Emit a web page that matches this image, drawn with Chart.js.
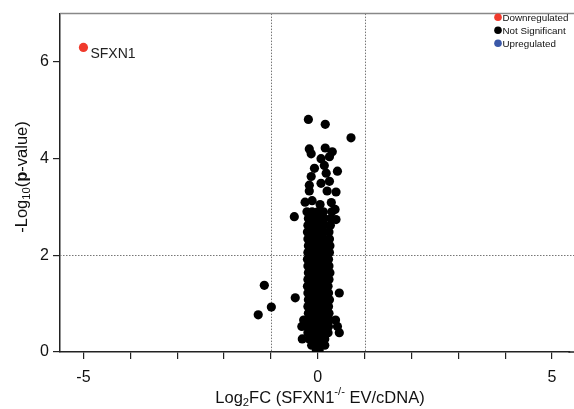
<!DOCTYPE html>
<html>
<head>
<meta charset="utf-8">
<script src="https://cdn.jsdelivr.net/npm/chart.js@4"></script>
<style>
  body { margin: 0; background: #fff; }
  #wrap { width: 574px; height: 409px; }
</style>
</head>
<body>
<div id="wrap"><canvas id="volcano"></canvas></div>
<script>
    // Log2FC / -log10(p) values
    const downregulated = [[-5.0, 6.3]];
    const downLabels = ['SFXN1'];
    const upregulated = [];

    const notSignificant = [
        // scattered points above the dense column
        [-0.2, 4.81], [0.16, 4.71], [0.71, 4.43],
        [-0.18, 4.2], [0.16, 4.22], [0.31, 4.14],
        [-0.14, 4.1], [0.07, 4.0], [0.25, 4.04],
        [-0.07, 3.8], [0.14, 3.86], [0.42, 3.74], [0.18, 3.7],
        [-0.14, 3.63], [0.25, 3.53], [-0.18, 3.45], [0.07, 3.49],
        [0.2, 3.33], [0.39, 3.31], [-0.18, 3.33],
        [-0.27, 3.1], [-0.12, 3.13], [0.29, 3.09], [0.05, 3.05],
        [0.37, 2.95], [0.39, 2.74], [-0.5, 2.8],
        // left / right outliers
        [-1.14, 1.38], [-1.27, 0.77], [-0.99, 0.93], [-0.48, 1.12], [0.46, 1.22],
        // dense column
        [-0.03, 0.04], [0.03, 0.04],
        [-0.13, 0.14], [-0.03, 0.14], [0.07, 0.14], [0.15, 0.14],
        [-0.18, 0.27], [-0.07, 0.27], [0.04, 0.27], [0.15, 0.27], [-0.33, 0.27],
        [-0.21, 0.4], [-0.1, 0.4], [0.01, 0.4], [0.12, 0.4], [0.22, 0.4], [0.46, 0.4],
        [-0.22, 0.53], [-0.11, 0.53], [0.0, 0.53], [0.11, 0.53], [0.23, 0.53], [-0.34, 0.53], [0.42, 0.53],
        [-0.21, 0.66], [-0.1, 0.66], [0.02, 0.66], [0.13, 0.66], [0.25, 0.66], [-0.3, 0.66], [0.38, 0.66],
        [-0.2, 0.8], [-0.09, 0.8], [0.03, 0.8], [0.14, 0.8], [0.24, 0.8],
        [-0.21, 0.94], [-0.1, 0.94], [0.02, 0.94], [0.13, 0.94], [0.23, 0.94],
        [-0.2, 1.08], [-0.09, 1.08], [0.03, 1.08], [0.14, 1.08], [0.25, 1.08],
        [-0.21, 1.22], [-0.1, 1.22], [0.01, 1.22], [0.12, 1.22], [0.23, 1.22],
        [-0.22, 1.36], [-0.11, 1.36], [0.0, 1.36], [0.11, 1.36], [0.22, 1.36],
        [-0.21, 1.5], [-0.1, 1.5], [0.02, 1.5], [0.13, 1.5], [0.24, 1.5],
        [-0.2, 1.64], [-0.09, 1.64], [0.03, 1.64], [0.14, 1.64], [0.26, 1.64],
        [-0.21, 1.78], [-0.1, 1.78], [0.01, 1.78], [0.12, 1.78], [0.24, 1.78],
        [-0.22, 1.92], [-0.11, 1.92], [0.0, 1.92], [0.11, 1.92], [0.23, 1.92],
        [-0.21, 2.06], [-0.1, 2.06], [0.02, 2.06], [0.13, 2.06], [0.25, 2.06],
        [-0.2, 2.2], [-0.09, 2.2], [0.03, 2.2], [0.14, 2.2], [0.26, 2.2],
        [-0.21, 2.34], [-0.1, 2.34], [0.01, 2.34], [0.12, 2.34], [0.25, 2.34],
        [-0.22, 2.48], [-0.11, 2.48], [0.0, 2.48], [0.11, 2.48], [0.24, 2.48],
        [-0.21, 2.62], [-0.1, 2.62], [0.02, 2.62], [0.13, 2.62], [0.27, 2.62],
        [-0.2, 2.76], [-0.09, 2.76], [0.03, 2.76], [0.14, 2.76], [0.28, 2.76],
        [-0.23, 2.9], [-0.12, 2.9], [0.0, 2.9], [0.12, 2.9], [0.3, 2.9]
    ];

    const xTicks = [-5, 0, 5];
    const yTicks = [0, 2, 4, 6];
    const fcCutoffs = [-1, 1];
    const pCutoff = 2;

    const FONT = '"Liberation Sans", Arial, sans-serif';

    function toPoints(arr) {
        return arr.map(p => ({ x: p[0], y: p[1] }));
    }

    // draws text made of pieces: {t, sub, sup, bold}
    function drawRich(ctx, parts, size) {
        let total = 0;
        parts.forEach(p => {
            const s = (p.sub || p.sup) ? size * 0.68 : size;
            ctx.font = (p.bold ? 'bold ' : '') + s + 'px ' + FONT;
            p.w = ctx.measureText(p.t).width;
            total += p.w;
        });
        let x = -total / 2;
        parts.forEach(p => {
            const s = (p.sub || p.sup) ? size * 0.68 : size;
            ctx.font = (p.bold ? 'bold ' : '') + s + 'px ' + FONT;
            let dy = 0;
            if (p.sub) dy = size * 0.28;
            if (p.sup) dy = -size * 0.38;
            ctx.fillText(p.t, x, dy);
            x += p.w;
        });
    }

    const extras = {
        id: 'extras',
        beforeDatasetsDraw(chart) {
            const ctx = chart.ctx;
            const a = chart.chartArea;
            const xs = chart.scales.x, ys = chart.scales.y;
            ctx.save();
            ctx.strokeStyle = '#777';
            ctx.lineWidth = 1;
            ctx.setLineDash([1.5, 1.5]);
            fcCutoffs.forEach(v => {
                const px = Math.round(xs.getPixelForValue(v)) + 0.5;
                ctx.beginPath();
                ctx.moveTo(px, a.top);
                ctx.lineTo(px, a.bottom);
                ctx.stroke();
            });
            const py = Math.round(ys.getPixelForValue(pCutoff)) + 0.5;
            ctx.beginPath();
            ctx.moveTo(a.left, py);
            ctx.lineTo(chart.width, py);
            ctx.stroke();
            ctx.setLineDash([]);
            // top frame line
            ctx.strokeStyle = '#888';
            ctx.lineWidth = 1.5;
            ctx.beginPath();
            ctx.moveTo(a.left, a.top);
            ctx.lineTo(chart.width, a.top);
            ctx.stroke();
            // x axis runs on to the edge of the figure
            ctx.strokeStyle = '#222';
            ctx.beginPath();
            ctx.moveTo(a.right - 1, a.bottom);
            ctx.lineTo(chart.width, a.bottom);
            ctx.stroke();
            ctx.restore();
        },
        afterDraw(chart) {
            const ctx = chart.ctx;
            const a = chart.chartArea;
            ctx.save();
            ctx.fillStyle = '#111';
            ctx.textBaseline = 'middle';
            ctx.textAlign = 'left';

            // point label
            const meta = chart.getDatasetMeta(0);
            meta.data.forEach((pt, i) => {
                ctx.font = '14px ' + FONT;
                ctx.fillStyle = '#222';
                ctx.fillText(downLabels[i], pt.x + 7, pt.y + 7);
            });

            // legend
            ctx.font = '9.8px ' + FONT;
            chart.data.datasets.forEach((ds, i) => {
                const y = 17.3 + i * 13;
                ctx.fillStyle = ds.backgroundColor;
                ctx.beginPath();
                ctx.arc(498, y, 3.8, 0, Math.PI * 2);
                ctx.fill();
                ctx.fillStyle = '#111';
                ctx.fillText(ds.label, 502.5, y + 0.5);
            });

            // axis titles
            ctx.fillStyle = '#111';
            ctx.textAlign = 'left';
            ctx.save();
            ctx.translate(320, 398);
            drawRich(ctx, [
                { t: 'Log' }, { t: '2', sub: true }, { t: 'FC (SFXN1' },
                { t: '-/-', sup: true }, { t: ' EV/cDNA)' }
            ], 16.5);
            ctx.restore();

            ctx.save();
            ctx.translate(22, 177);
            ctx.rotate(-Math.PI / 2);
            drawRich(ctx, [
                { t: '-Log' }, { t: '10', sub: true }, { t: '(' },
                { t: 'p', bold: true }, { t: '-value)' }
            ], 16.5);
            ctx.restore();
            ctx.restore();
        }
    };

    const ctx = document.getElementById('volcano').getContext('2d');
    const volcanoChart = new Chart(ctx, {
        type: 'scatter',
        data: {
            datasets: [{
                label: 'Downregulated',
                data: toPoints(downregulated),
                backgroundColor: '#f03a2c',
                borderWidth: 0,
                pointRadius: 4.6
            }, {
                label: 'Not Significant',
                data: toPoints(notSignificant),
                backgroundColor: '#000000',
                borderWidth: 0,
                pointRadius: 4.6
            }, {
                label: 'Upregulated',
                data: toPoints(upregulated),
                backgroundColor: '#3a58a8',
                borderWidth: 0,
                pointRadius: 4.6
            }]
        },
        options: {
            responsive: true,
            maintainAspectRatio: false,
            animation: false,
            layout: { padding: { top: 8, right: 0, left: 0, bottom: 0 } },
            plugins: {
                legend: { display: false },
                tooltip: { enabled: false }
            },
            scales: {
                x: {
                    type: 'linear',
                    min: -5.5,
                    max: 5.37,
                    afterFit: s => { s.height = 57; },
                    ticks: {
                        stepSize: 1,
                        includeBounds: false,
                        autoSkip: false,
                        maxRotation: 0,
                        padding: 9,
                        color: '#111',
                        font: { size: 16, family: FONT },
                        callback: v => xTicks.includes(v) ? String(v) : ''
                    },
                    grid: {
                        drawOnChartArea: false,
                        drawTicks: true,
                        tickLength: 7,
                        color: '#222',
                        lineWidth: 1.2
                    },
                    border: { display: true, color: '#222', width: 1.5 }
                },
                y: {
                    type: 'linear',
                    min: 0,
                    max: 7,
                    afterFit: s => { s.width = 60; },
                    ticks: {
                        stepSize: 2,
                        includeBounds: false,
                        padding: 4,
                        color: '#111',
                        font: { size: 16, family: FONT },
                        callback: v => yTicks.includes(v) ? String(v) : ''
                    },
                    grid: {
                        drawOnChartArea: false,
                        drawTicks: true,
                        tickLength: 7,
                        color: '#222',
                        lineWidth: 1.2
                    },
                    border: { display: true, color: '#222', width: 1.5 }
                }
            }
        },
        plugins: [extras]
    });
</script>
</body>
</html>
